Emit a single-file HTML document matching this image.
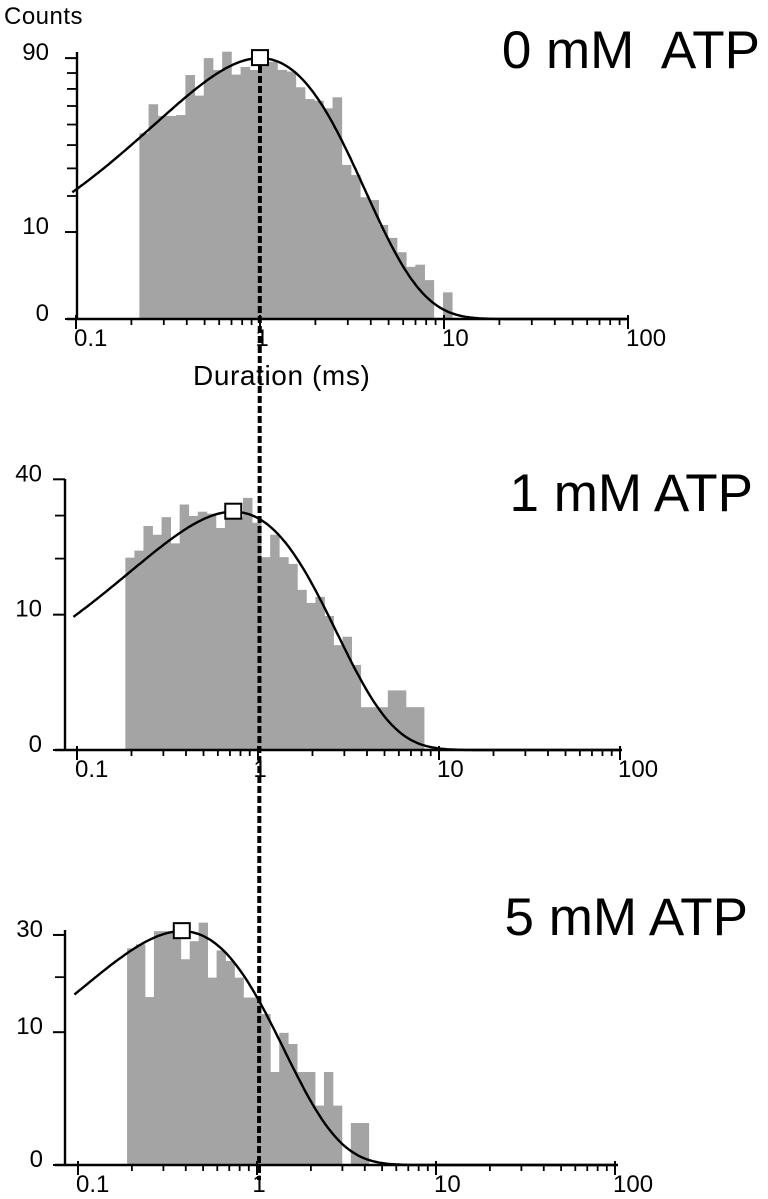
<!DOCTYPE html>
<html><head><meta charset="utf-8"><style>
html,body{margin:0;padding:0;background:#fff;}
svg{display:block;font-family:"Liberation Sans",Arial,sans-serif;}
</style></head><body>
<svg id="chart" width="768" height="1199" viewBox="0 0 768 1199" xmlns="http://www.w3.org/2000/svg">
<text x="4" y="24" font-size="24" letter-spacing="0.5">Counts</text>
<text x="193" y="385" font-size="28" letter-spacing="0.6">Duration (ms)</text>
<text x="760" y="68" font-size="53" text-anchor="end" xml:space="preserve">0 mM  ATP</text>
<text x="753" y="511" font-size="53" text-anchor="end">1 mM ATP</text>
<text x="748" y="935" font-size="53" text-anchor="end">5 mM ATP</text>
<g id="plots"></g>
</svg>
<script>
// ---- data ----
const counts0 = [45.6,61,54.5,54.5,55,78.7,66,90,82,94.5,79,84,82,86,87.5,82,81,71,64,63,58.7,65,31.4,27.4,19.6,18.7,11.7,8.7,5.9,3.6,3.9,2,0,0.94];
const counts1 = [20.2,21.7,27.4,25.3,29.6,23.3,32.9,29.9,31,30.5,26.9,29.5,29.6,34.7,28.2,20.3,25.3,20.3,18.9,14,11.8,12.8,9.8,6,7,3.95,1,1,1,1.94,1.94,1,1];
const counts5 = [26.6,27.6,16,31,31,31,24,28.4,33.3,19.9,26.1,23.6,19.9,15.9,15.9,12.9,4.9,9.9,8.3,4.9,4.9,2,4.9,2,0,1,1];
const firstBinMs = [0.221, 0.185, 0.188];
const binLogWidth = 0.05;
const fitTau = [1.0, 0.73, 0.38];
const fitPeak = [90, 31, 31];
const yTickValues = [[0,10,90],[0,10,40],[0,10,30]];
const yMinorTicks = [[20,30,40,50,60,70,80],[20,30],[20]];
const xTickLabels = ["0.1","1","10","100"];
const xTickValues = [0.1,1,10,100];
// ---- layout ----
const panels = [
  {axisX:77, base:319, k:27.5, x1:260, dec:184, xEnd:628, top:52, lblGap:28, counts:counts0},
  {axisX:65, base:750, k:42.8, x1:258, dec:181, xEnd:622, top:479, lblGap:23, counts:counts1},
  {axisX:65, base:1165, k:42,  x1:257, dec:179, xEnd:618, top:930, lblGap:22, counts:counts5}
];
const NS="http://www.w3.org/2000/svg";
const root=document.getElementById('plots');
function mk(tag,attrs,parent){const e=document.createElementNS(NS,tag);for(const a in attrs)e.setAttribute(a,attrs[a]);(parent||root).appendChild(e);return e;}

panels.forEach((p,pi)=>{
  const g=mk('g',{});
  
  
  const xs=v=>p.x1+Math.log10(v)*p.dec;
  const ys=v=>p.base-Math.sqrt(Math.max(0,v))*p.k;
  const start=Math.log10(firstBinMs[pi]);
  p.counts.forEach((c,i)=>{
    if(c<=0) return;
    const l=p.x1+(start+i*binLogWidth)*p.dec, r=p.x1+(start+(i+1)*binLogWidth)*p.dec;
    const b=mk('rect',{x:l.toFixed(2),y:ys(c).toFixed(2),width:(r-l+0.4).toFixed(2),height:(p.base-ys(c)).toFixed(2),fill:'#a4a4a4'},g);
    
    
  });
  const ax=mk('path',{d:`M${p.axisX} ${p.top}V${p.base}M${p.axisX-10} ${p.base}H${p.xEnd}`,stroke:'#000','stroke-width':2.4,fill:'none'},g);
  
  
  yTickValues[pi].forEach(v=>{
    mk('line',{x1:p.axisX-12,x2:p.axisX,y1:ys(v),y2:ys(v),stroke:'#000','stroke-width':2},g);
    const t=mk('text',{x:p.axisX-p.lblGap,y:ys(v)+2,'font-size':24,'text-anchor':'end'},g);
    t.textContent=v;
    
    
  });
  yMinorTicks[pi].forEach(v=>mk('line',{x1:p.axisX-10,x2:p.axisX,y1:ys(v),y2:ys(v),stroke:'#000','stroke-width':1.8},g));
  for(let d=-1;d<2;d++){for(let m=2;m<10;m++){const x=xs(m*Math.pow(10,d));mk('line',{x1:x,x2:x,y1:p.base,y2:p.base+6,stroke:'#000','stroke-width':1.8},g);}}
  xTickValues.forEach((v,i)=>{
    const x=xs(v);
    mk('line',{x1:x,x2:x,y1:p.base-4,y2:p.base+10,stroke:'#000','stroke-width':2},g);
    const t=mk('text',{x:i==1?x+2:x-2,y:p.base+27,'font-size':24,'text-anchor':i==1?'middle':'start'},g);
    t.textContent=xTickLabels[i];
    
    
  });
  let d='';
  for(let lg=-1.02;lg<=2.0001;lg+=0.01){const t=Math.pow(10,lg);const v=fitPeak[pi]*(t/fitTau[pi])*Math.exp(1-t/fitTau[pi]);const x=xs(t);if(x>p.xEnd)break;d+=(d?'L':'M')+x.toFixed(1)+' '+ys(v).toFixed(1);}
  const c=mk('path',{d:d,stroke:'#000','stroke-width':2.4,fill:'none'},g);
  
  
  const mx=xs(fitTau[pi]), my=ys(fitPeak[pi]);
  const mkr=mk('rect',{x:mx-8,y:my-8,width:16,height:15,fill:'#fff',stroke:'#000','stroke-width':2},g);
  
  
});
const dl=mk('line',{x1:260,x2:259,y1:66,y2:1180,stroke:'#000','stroke-width':4,'stroke-dasharray':'7 3'});


</script>
</body></html>
